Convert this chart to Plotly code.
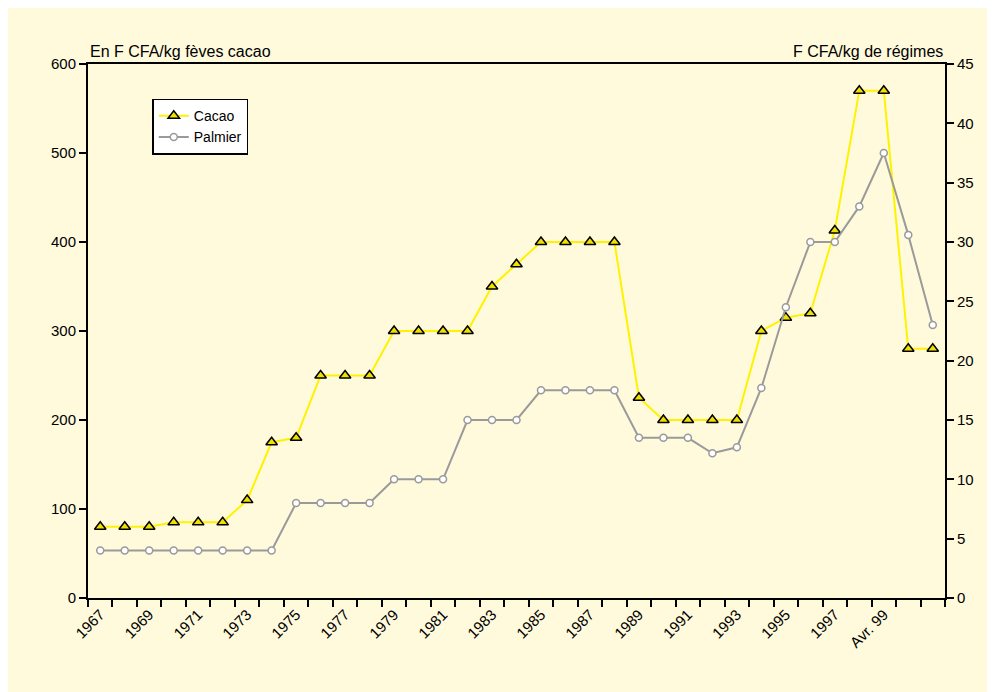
import plotly.graph_objects as go

tick_labels = ["1967", "1969", "1971", "1973", "1975", "1977", "1979", "1981",
               "1983", "1985", "1987", "1989", "1991", "1993", "1995", "1997", "Avr. 99"]
tick_positions = [0, 2, 4, 6, 8, 10, 12, 14, 16, 18, 20, 22, 24, 26, 28, 30, 32]

cacao = [80, 80, 80, 85, 85, 85, 110, 175, 180, 250, 250, 250, 300, 300, 300, 300,
         350, 375, 400, 400, 400, 400, 225, 200, 200, 200, 200, 300, 315, 320, 413,
         570, 570, 280, 280]
palmier = [4, 4, 4, 4, 4, 4, 4, 4, 8, 8, 8, 8, 10, 10, 10, 15, 15, 15, 17.5, 17.5,
           17.5, 17.5, 13.5, 13.5, 13.5, 12.2, 12.7, 17.7, 24.5, 30, 30, 33, 37.5,
           30.6, 23]

x = list(range(len(cacao)))
bg = "#FFFADC"
font = "Liberation Sans, Arial, sans-serif"

fig = go.Figure()
fig.add_trace(go.Scatter(
    x=x, y=cacao, name="Cacao", mode="lines+markers",
    line=dict(color="#FFF200", width=2),
    marker=dict(symbol="triangle-up", size=10, color="#F0E000",
                line=dict(color="black", width=1.5)),
))
fig.add_trace(go.Scatter(
    x=x, y=palmier, name="Palmier", mode="lines+markers", yaxis="y2",
    line=dict(color="#9A9A9A", width=2),
    marker=dict(symbol="circle", size=7, color="white",
                line=dict(color="#9A9A9A", width=1.5)),
))

fig.update_layout(
    width=987, height=684,
    margin=dict(l=80, r=50, t=56, b=94),
    paper_bgcolor=bg, plot_bgcolor=bg,
    font=dict(family=font, size=14, color="black"),
    showlegend=True,
    legend=dict(x=0.075, y=0.935, xanchor="left", yanchor="top",
                bgcolor="white", bordercolor="black", borderwidth=1.5,
                font=dict(size=14, family=font), tracegroupgap=0,
                itemwidth=30, traceorder="normal"),
    xaxis=dict(
        automargin=False,
        range=[-0.5, len(cacao) - 0.5],
        tickmode="array", tickvals=tick_positions, ticktext=tick_labels,
        tickangle=-45, ticks="", showgrid=False, zeroline=False,
        showline=True, linecolor="black", linewidth=2, mirror=True,
        minor=dict(tickmode="array",
                   tickvals=[i - 0.5 for i in range(len(cacao) + 1)],
                   ticks="outside", ticklen=7, tickwidth=2, tickcolor="black",
                   showgrid=False),
        tickfont=dict(size=15),
    ),
    yaxis=dict(
        automargin=False,
        range=[0, 600], dtick=100, ticks="outside", ticklen=7, tickwidth=2,
        tickcolor="black", showgrid=False, zeroline=False,
        showline=True, linecolor="black", linewidth=2,
        tickfont=dict(size=15),
    ),
    yaxis2=dict(
        automargin=False,
        range=[0, 45], dtick=5, overlaying="y", side="right",
        ticks="outside", ticklen=7, tickwidth=2, tickcolor="black",
        showgrid=False, zeroline=False,
        showline=True, linecolor="black", linewidth=2,
        tickfont=dict(size=15),
    ),
    annotations=[
        dict(text="En F CFA/kg fèves cacao", xref="paper", yref="paper",
             x=0, y=1, xanchor="left", yanchor="bottom", yshift=2,
             showarrow=False, font=dict(size=16)),
        dict(text="F CFA/kg de régimes", xref="paper", yref="paper",
             x=1, y=1, xanchor="right", yanchor="bottom", yshift=2,
             showarrow=False, font=dict(size=16)),
    ],
)

fig.write_html("out.html")
